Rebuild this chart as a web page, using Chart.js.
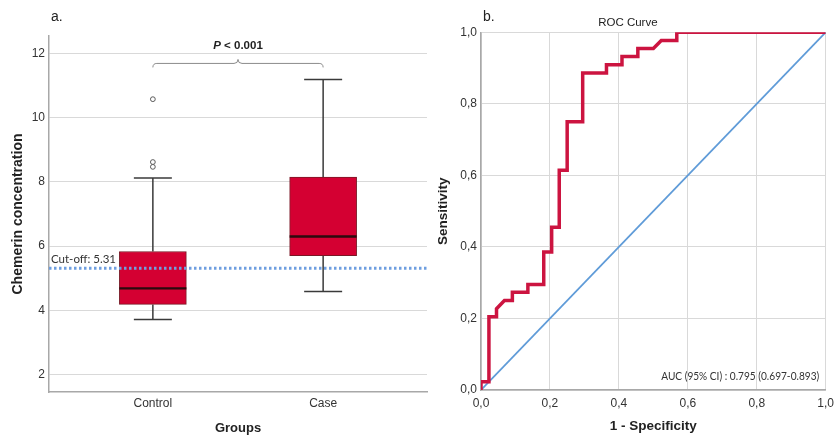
<!DOCTYPE html>
<html>
<head>
<meta charset="utf-8">
<script src="https://cdn.jsdelivr.net/npm/chart.js@4.4.1/dist/chart.umd.min.js"></script>
<style>
  html, body { margin: 0; padding: 0; background: #fff; }
  #wrap { position: relative; width: 834px; height: 435px; overflow: hidden; }
  #boxWrap { position: absolute; left: 0; top: 0; width: 430px; height: 435px; }
  #rocWrap { position: absolute; left: 430px; top: 0; width: 404px; height: 435px; }
</style>
</head>
<body>
<div id="wrap">
  <div id="boxWrap"><canvas id="boxChart" width="430" height="435"></canvas></div>
  <div id="rocWrap"><canvas id="rocChart" width="404" height="435"></canvas></div>
</div>
<script>
// ---- Panel a: chemerin concentration by group (box plot) ----
const GROUPS = ['Control', 'Case'];
const GROUP_POS = [1, 2];
const WHISKER_LOW = [3.71, 4.58];
const Q1 = [4.18, 5.70];
const MEDIAN = [4.68, 6.30];
const Q3 = [5.83, 8.15];
const WHISKER_HIGH = [8.12, 11.19];
const OUTLIER_X = [1, 1, 1];
const OUTLIER_Y = [10.58, 8.62, 8.47];
const CUTOFF = 5.31;
const CONC_TICKS = [2, 4, 6, 8, 10, 12];
const CONC_MIN = 1.45, CONC_MAX = 12.55;
const GROUP_MIN = 0.39, GROUP_MAX = 2.61;
const BRACE_LEVEL = 11.57;
const P_TEXT = '< 0.001';

// ---- Panel b: ROC curve ----
const ROC_FPR = [0, 0, 0.023, 0.023, 0.045, 0.045, 0.068, 0.091, 0.091, 0.136, 0.136, 0.182, 0.182, 0.205, 0.205, 0.227, 0.227, 0.25, 0.25, 0.295, 0.295, 0.364, 0.364, 0.409, 0.409, 0.455, 0.455, 0.5, 0.523, 0.568, 0.568, 1];
const ROC_TPR = [0, 0.023, 0.023, 0.205, 0.205, 0.227, 0.25, 0.25, 0.273, 0.273, 0.295, 0.295, 0.386, 0.386, 0.455, 0.455, 0.614, 0.614, 0.75, 0.75, 0.886, 0.886, 0.909, 0.909, 0.932, 0.932, 0.955, 0.955, 0.977, 0.977, 1, 1];
const REF_LINE = [0, 1];
const ROC_TICKS = [0, 0.2, 0.4, 0.6, 0.8, 1];
const ROC_TICK_LABELS = ['0,0', '0,2', '0,4', '0,6', '0,8', '1,0'];
const AUC_TEXT = 'AUC (95% CI) : 0.795 (0.697-0.893)';

const SANS = '"Liberation Sans", Arial, sans-serif';
const CALI = 'Lato, "Open Sans", sans-serif';
Chart.defaults.font.family = SANS;
Chart.defaults.color = '#333';

const BOX_RED = '#d40032';
const ROC_RED = '#cc1440';
const CUT_BLUE = '#6f9fe0';
const DIAG_BLUE = '#5f9bd8';

// whisker segments (box edge to whisker end), separated by gaps
const whiskerData = [];
GROUP_POS.forEach((g, i) => {
  whiskerData.push({x: g, y: Q1[i]}, {x: g, y: WHISKER_LOW[i]}, {x: g, y: null});
  whiskerData.push({x: g, y: Q3[i]}, {x: g, y: WHISKER_HIGH[i]}, {x: g, y: null});
});

// keep the plot area fixed: no extra room reserved for edge tick labels
const noEdgePadding = s => { s.paddingLeft = 0; s.paddingRight = 0; };

const boxAnnotations = {
  id: 'boxAnnotations',
  afterDatasetsDraw(chart) {
    const {ctx, chartArea: area, scales: {x, y}} = chart;
    ctx.save();
    ctx.textBaseline = 'middle';
    ctx.textAlign = 'left';
    ctx.fillStyle = '#222';
    ctx.font = '14px ' + SANS;
    ctx.fillText('a.', area.left + 2, 17);

    ctx.fillStyle = '#333';
    ctx.font = '11.5px ' + CALI;
    ctx.fillText('Cut-off: ' + CUTOFF.toFixed(2), area.left + 2, y.getPixelForValue(CUTOFF) - 9);

    // curly brace joining the two groups
    const xa = x.getPixelForValue(GROUP_POS[0]);
    const xb = x.getPixelForValue(GROUP_POS[1]);
    const yb = y.getPixelForValue(BRACE_LEVEL);
    const xm = (xa + xb) / 2, h = 4, r = 4;
    ctx.beginPath();
    ctx.moveTo(xa, yb);
    ctx.quadraticCurveTo(xa, yb - h, xa + r, yb - h);
    ctx.lineTo(xm - r, yb - h);
    ctx.quadraticCurveTo(xm, yb - h, xm, yb - 2 * h);
    ctx.quadraticCurveTo(xm, yb - h, xm + r, yb - h);
    ctx.lineTo(xb - r, yb - h);
    ctx.quadraticCurveTo(xb, yb - h, xb, yb);
    ctx.strokeStyle = '#8c8c8c';
    ctx.lineWidth = 1;
    ctx.stroke();

    // significance label
    const pFont = 'italic bold 11.5px ' + SANS;
    const restFont = 'bold 11.5px ' + SANS;
    ctx.font = pFont;
    const wP = ctx.measureText('P').width;
    ctx.font = restFont;
    const wRest = ctx.measureText(' ' + P_TEXT).width;
    const x0 = xm - (wP + wRest) / 2, ty = yb - 22;
    ctx.fillStyle = '#222';
    ctx.font = pFont;
    ctx.fillText('P', x0, ty);
    ctx.font = restFont;
    ctx.fillText(' ' + P_TEXT, x0 + wP, ty);
    ctx.restore();
  }
};

new Chart(document.getElementById('boxChart'), {
  type: 'bar',
  data: {
    datasets: [
      {
        type: 'line', order: 0,
        data: [{x: GROUP_MIN, y: CUTOFF}, {x: GROUP_MAX, y: CUTOFF}],
        borderColor: CUT_BLUE, borderWidth: 3, borderDash: [2.5, 2.5],
        pointRadius: 0, fill: false
      },
      {
        type: 'scatter', order: 1,
        data: OUTLIER_X.map((v, i) => ({x: v, y: OUTLIER_Y[i]})),
        pointStyle: 'circle', pointRadius: 2.4, pointBorderWidth: 1,
        pointBorderColor: '#5a5a5a', pointBackgroundColor: '#ffffff'
      },
      {
        type: 'scatter', order: 1,
        data: GROUP_POS.map((g, i) => ({x: g, y: MEDIAN[i]})),
        pointStyle: 'line', pointRadius: 33.5, pointBorderWidth: 2.4,
        pointBorderColor: '#2b0a0e'
      },
      {
        type: 'scatter', order: 2,
        data: GROUP_POS.flatMap((g, i) => [{x: g, y: WHISKER_LOW[i]}, {x: g, y: WHISKER_HIGH[i]}]),
        pointStyle: 'line', pointRadius: 19, pointBorderWidth: 1.5,
        pointBorderColor: '#3a3a3a'
      },
      {
        type: 'bar', order: 3,
        data: GROUP_POS.map((g, i) => ({x: g, y: [Q1[i], Q3[i]]})),
        backgroundColor: BOX_RED, borderColor: '#7a1826', borderWidth: 1,
        borderSkipped: false, barThickness: 67
      },
      {
        type: 'line', order: 4,
        data: whiskerData,
        borderColor: '#3a3a3a', borderWidth: 1.5, pointRadius: 0,
        spanGaps: false, fill: false
      }
    ]
  },
  options: {
    responsive: false, animation: false, devicePixelRatio: 1, events: [],
    layout: {autoPadding: false, padding: {top: 36, right: 3, bottom: 0, left: 0}},
    plugins: {legend: {display: false}, tooltip: {enabled: false}, title: {display: false}},
    scales: {
      x: {
        type: 'linear', min: GROUP_MIN, max: GROUP_MAX, offset: false,
        grid: {display: false, offset: false, drawTicks: false},
        border: {display: true, color: '#a8a8a8', width: 1.5},
        afterBuildTicks: s => { s.ticks = GROUP_POS.map(v => ({value: v})); },
        ticks: {
          padding: 4, maxRotation: 0, autoSkip: false,
          font: {size: 12}, color: '#333',
          callback: (v, i) => GROUPS[i]
        },
        title: {display: true, text: 'Groups', font: {size: 13, weight: 'bold', lineHeight: 1}, color: '#222', padding: {top: 0, bottom: 0.5}},
        afterFit: s => { s.height = 43; noEdgePadding(s); }
      },
      y: {
        type: 'linear', min: CONC_MIN, max: CONC_MAX,
        afterBuildTicks: s => { s.ticks = CONC_TICKS.map(v => ({value: v})); },
        grid: {color: '#d9d9d9', lineWidth: 1, drawTicks: false},
        border: {display: true, color: '#a8a8a8', width: 1.5},
        ticks: {padding: 4, font: {size: 12}, color: '#333'},
        title: {display: true, text: 'Chemerin concentration', font: {size: 14, weight: 'bold', lineHeight: 1.2}, color: '#222', padding: {top: 9.6, bottom: 0}},
        afterFit: s => { s.width = 49; }
      }
    }
  },
  plugins: [boxAnnotations]
});

const rocAnnotations = {
  id: 'rocAnnotations',
  afterDatasetsDraw(chart) {
    const {ctx, chartArea: area} = chart;
    ctx.save();
    ctx.textBaseline = 'middle';
    ctx.textAlign = 'left';
    ctx.fillStyle = '#222';
    ctx.font = '14px ' + SANS;
    ctx.fillText('b.', area.left + 2, 17);

    ctx.textAlign = 'center';
    ctx.font = '11.5px ' + SANS;
    ctx.fillText('ROC Curve', area.left + 0.426 * (area.right - area.left), 23);

    ctx.textAlign = 'right';
    ctx.fillStyle = '#333';
    ctx.font = '11px ' + CALI;
    ctx.fillText(AUC_TEXT, area.right - 6.5, area.bottom - 13.3, 158);
    ctx.restore();
  }
};

new Chart(document.getElementById('rocChart'), {
  type: 'line',
  data: {
    datasets: [
      {
        order: 0,
        data: ROC_FPR.map((v, i) => ({x: v, y: ROC_TPR[i]})),
        borderColor: ROC_RED, borderWidth: 3.5, pointRadius: 0,
        borderJoinStyle: 'miter', borderCapStyle: 'butt', fill: false, tension: 0
      },
      {
        order: 1,
        data: REF_LINE.map(v => ({x: v, y: v})),
        borderColor: DIAG_BLUE, borderWidth: 1.8, pointRadius: 0, fill: false
      }
    ]
  },
  options: {
    responsive: false, animation: false, devicePixelRatio: 1, events: [],
    layout: {autoPadding: false, padding: {top: 32.3, right: 8.3, bottom: 0, left: 0}},
    plugins: {legend: {display: false}, tooltip: {enabled: false}, title: {display: false}},
    scales: {
      x: {
        type: 'linear', min: 0, max: 1,
        afterBuildTicks: s => { s.ticks = ROC_TICKS.map(v => ({value: v})); },
        grid: {color: '#d9d9d9', lineWidth: 1, drawTicks: false},
        border: {display: true, color: '#a8a8a8', width: 1.5},
        ticks: {padding: 6, maxRotation: 0, autoSkip: false, font: {size: 12}, color: '#333', callback: (v, i) => ROC_TICK_LABELS[i]},
        title: {display: true, text: '1 - Specificity', font: {size: 13.5, weight: 'bold', lineHeight: 1.2}, color: '#222', padding: {top: 0, bottom: 0.9}},
        afterFit: s => { s.height = 45; noEdgePadding(s); }
      },
      y: {
        type: 'linear', min: 0, max: 1,
        afterBuildTicks: s => { s.ticks = ROC_TICKS.map(v => ({value: v})); },
        grid: {color: '#d9d9d9', lineWidth: 1, drawTicks: false},
        border: {display: true, color: '#a8a8a8', width: 1.5},
        ticks: {padding: 4, font: {size: 12}, color: '#333', callback: (v, i) => ROC_TICK_LABELS[i]},
        title: {display: true, text: 'Sensitivity', font: {size: 13.5, weight: 'bold', lineHeight: 1.2}, color: '#222', padding: {top: 4.9, bottom: 0}},
        afterFit: s => { s.width = 51; }
      }
    }
  },
  plugins: [rocAnnotations]
});
</script>
</body>
</html>
